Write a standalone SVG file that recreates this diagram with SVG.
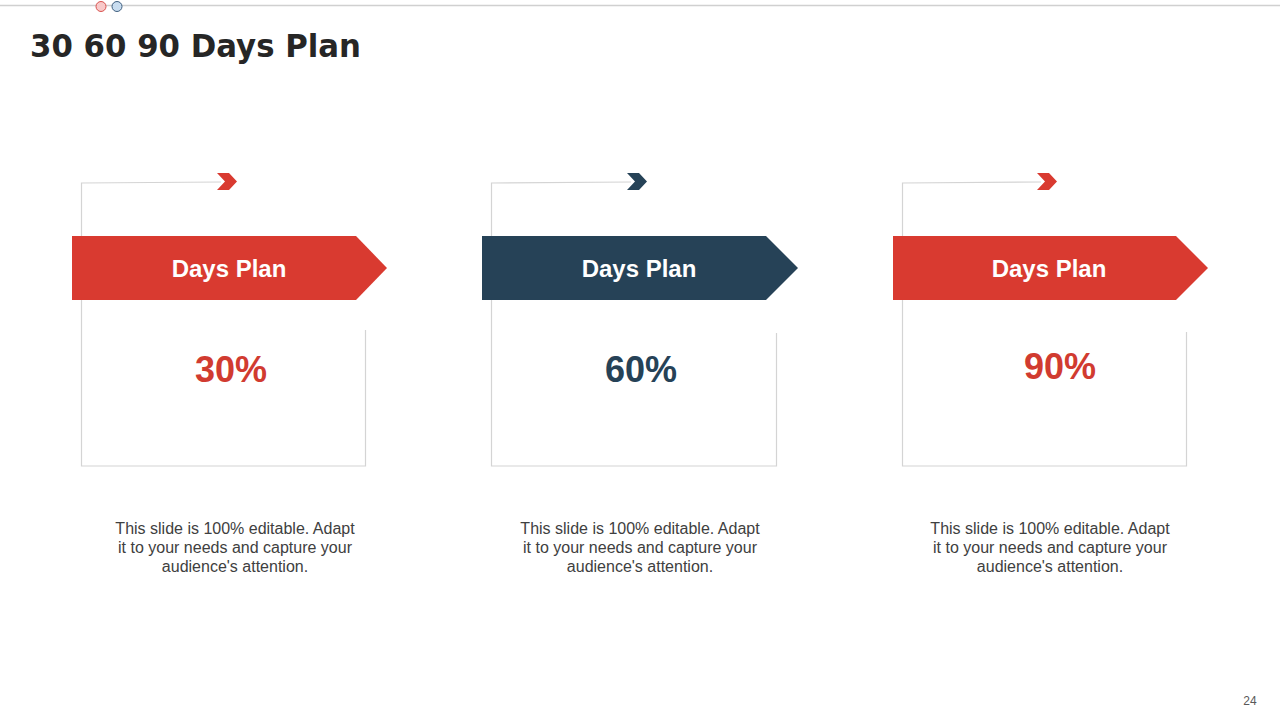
<svg xmlns="http://www.w3.org/2000/svg" width="1280" height="720" viewBox="0 0 1280 720">
<style>
.frame{fill:none;stroke:#d4d4d4;stroke-width:1.2}
.red{fill:#d93a30}
.navy{fill:#264257}
.ban{font-family:"Liberation Sans",Arial,sans-serif;font-weight:bold;font-size:24px;fill:#ffffff;text-anchor:middle}
.pct{font-family:"Liberation Sans",Arial,sans-serif;font-weight:bold;font-size:36px;text-anchor:middle}
.desc{font-family:"Liberation Sans",Arial,sans-serif;font-size:16px;fill:#404040;text-anchor:middle}
</style>
<rect width="1280" height="720" fill="#ffffff"/>
<line x1="0" y1="5.5" x2="1280" y2="5.5" stroke="#d0d0d0" stroke-width="1.5"/>
<circle cx="101" cy="6.5" r="5" fill="#f8c9c9" stroke="#d9534f" stroke-width="1"/>
<circle cx="117" cy="6.5" r="5" fill="#c9ddf0" stroke="#3f5f7f" stroke-width="1"/>
<text x="30" y="57" font-family="'DejaVu Sans',sans-serif" font-weight="bold" font-size="32" fill="#262626" textLength="331" lengthAdjust="spacingAndGlyphs">30 60 90 Days Plan</text>

<g id="node-30">
<path class="frame" d="M221,182 L81.5,183 L81.5,466 L365.5,466 L365.5,330"/>
<polygon class="red" points="217,173 229,173 237,181.5 229,190 217,190 225,181.5"/>
<polygon class="red" points="72,236 356,236 387,268 356,300 72,300"/>
<text class="ban" x="229" y="277">Days Plan</text>
<text class="pct" x="231" y="382" fill="#d13b30">30%</text>
<text class="desc" x="235" y="534">This slide is 100% editable. Adapt</text>
<text class="desc" x="235" y="553">it to your  needs and capture your</text>
<text class="desc" x="235" y="572">audience's attention.</text>
</g>

<g id="node-60">
<path class="frame" d="M631,182 L491.5,183 L491.5,466 L776.5,466 L776.5,333"/>
<polygon class="navy" points="627,173 639,173 647,181.5 639,190 627,190 635,181.5"/>
<polygon class="navy" points="482,236 766,236 798,268 766,300 482,300"/>
<text class="ban" x="639" y="277">Days Plan</text>
<text class="pct" x="641" y="382" fill="#264257">60%</text>
<text class="desc" x="640" y="534">This slide is 100% editable. Adapt</text>
<text class="desc" x="640" y="553">it to your  needs and capture your</text>
<text class="desc" x="640" y="572">audience's attention.</text>
</g>

<g id="node-90">
<path class="frame" d="M1041,182 L902.5,183 L902.5,466 L1186.5,466 L1186.5,332"/>
<polygon class="red" points="1037,173 1049,173 1057,181.5 1049,190 1037,190 1045,181.5"/>
<polygon class="red" points="893,236 1176,236 1208,268 1176,300 893,300"/>
<text class="ban" x="1049" y="277">Days Plan</text>
<text class="pct" x="1060" y="379" fill="#d13b30">90%</text>
<text class="desc" x="1050" y="534">This slide is 100% editable. Adapt</text>
<text class="desc" x="1050" y="553">it to your  needs and capture your</text>
<text class="desc" x="1050" y="572">audience's attention.</text>
</g>

<g id="connectors"></g>
<text x="1250" y="705" font-family="'Liberation Sans',Arial,sans-serif" font-size="12" fill="#595959" text-anchor="middle">24</text>
</svg>
